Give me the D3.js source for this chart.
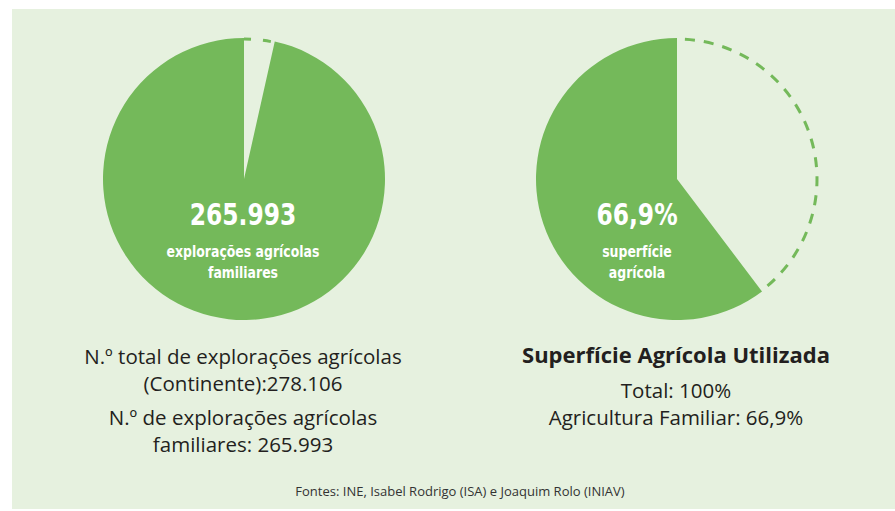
<!DOCTYPE html>
<html>
<head>
<meta charset="utf-8">
<script src="https://cdn.jsdelivr.net/npm/d3@7"></script>
<style>
  body { margin: 0; background: #fff; }
  svg { display: block; }
</style>
</head>
<body>
<div id="chart"></div>
<script>
// Data
const pieNames = ["explorações", "superfície"];
// share of each circle left open (dashed) and filled (green), as drawn
const openShare = [3.5, 39.7];
const filledShare = [96.5, 60.3];
const bigLabels = ["265.993", "66,9%"];
const smallLabels = [["explorações agrícolas", "familiares"], ["superfície", "agrícola"]];
const leftNotes = ["N.º total de explorações agrícolas", "(Continente):278.106", "N.º de explorações agrícolas", "familiares: 265.993"];
const rightTitle = "Superfície Agrícola Utilizada";
const rightNotes = ["Total: 100%", "Agricultura Familiar: 66,9%"];
const sourceText = "Fontes: INE, Isabel Rodrigo (ISA) e Joaquim Rolo (INIAV)";

const W = 895, H = 511;
const green = "#74b95a", bg = "#e6f1df", ink = "#231f20";
const radius = 141;

const svg = d3.select("#chart").append("svg")
    .attr("width", W)
    .attr("height", H);

// panel
svg.append("rect")
    .attr("x", 12).attr("y", 9)
    .attr("width", W - 12).attr("height", 500)
    .attr("fill", bg);

// position of each pie
const x = d3.scalePoint().domain(pieNames).range([244, 677]);
const cy = 179;

const pie = d3.pie().sort(null).value(d => d);
const arc = d3.arc().innerRadius(0).outerRadius(radius);

const numFont = "'DejaVu Sans', sans-serif";
const textFont = "'Open Sans', Roboto, sans-serif";

pieNames.forEach(function(name, i) {
    const g = svg.append("g")
        .attr("transform", "translate(" + x(name) + "," + cy + ")");
    const arcs = pie([openShare[i], filledShare[i]]);

    // filled slice
    g.append("path")
        .attr("d", arc(arcs[1]))
        .attr("fill", green);

    // dashed outline of the open part
    const p = d3.path();
    const a0 = arcs[0].startAngle - Math.PI / 2, a1 = arcs[0].endAngle - Math.PI / 2;
    p.moveTo(radius * Math.cos(a0), radius * Math.sin(a0));
    p.arc(0, 0, radius - 1, a0, a1);
    g.append("path")
        .attr("d", p.toString())
        .attr("fill", "none")
        .attr("stroke", green)
        .attr("stroke-width", 3)
        .attr("stroke-dasharray", i === 0 ? "8,12" : "10,9")
        .attr("stroke-dashoffset", i === 0 ? 0 : -9);

    // centre labels, squeezed to look like a condensed face
    const cx = i === 0 ? -1 : -40;
    const lab = g.append("g")
        .attr("transform", "translate(" + cx + ",0) scale(0.78,1)");
    lab.append("text")
        .attr("y", 46)
        .attr("text-anchor", "middle")
        .style("font-family", numFont)
        .style("font-weight", "bold")
        .style("font-size", "30px")
        .style("fill", "#fff")
        .text(bigLabels[i]);

    smallLabels[i].forEach(function(s, j) {
        lab.append("text")
            .attr("y", 78 + j * 21)
            .attr("text-anchor", "middle")
            .style("font-family", numFont)
            .style("font-weight", "bold")
            .style("font-size", "16px")
            .style("fill", "#fff")
            .text(s);
    });
});

// notes under the left pie
const leftY = [364, 391, 425, 452];
leftNotes.forEach(function(s, j) {
    svg.append("text")
        .attr("x", 243).attr("y", leftY[j])
        .attr("text-anchor", "middle")
        .style("font-family", textFont)
        .style("font-size", "20.5px")
        .style("fill", ink)
        .text(s);
});

// notes under the right pie
svg.append("text")
    .attr("x", 676).attr("y", 363)
    .attr("text-anchor", "middle")
    .style("font-family", textFont)
    .style("font-weight", "bold")
    .style("font-size", "22px")
    .style("fill", ink)
    .text(rightTitle);

const rightY = [398, 425];
rightNotes.forEach(function(s, j) {
    svg.append("text")
        .attr("x", 676).attr("y", rightY[j])
        .attr("text-anchor", "middle")
        .style("font-family", textFont)
        .style("font-size", "20.5px")
        .style("fill", ink)
        .text(s);
});

// source
svg.append("text")
    .attr("x", 460).attr("y", 496)
    .attr("text-anchor", "middle")
    .style("font-family", textFont)
    .style("font-size", "13px")
    .style("fill", "#333")
    .text(sourceText);
</script>
</body>
</html>
